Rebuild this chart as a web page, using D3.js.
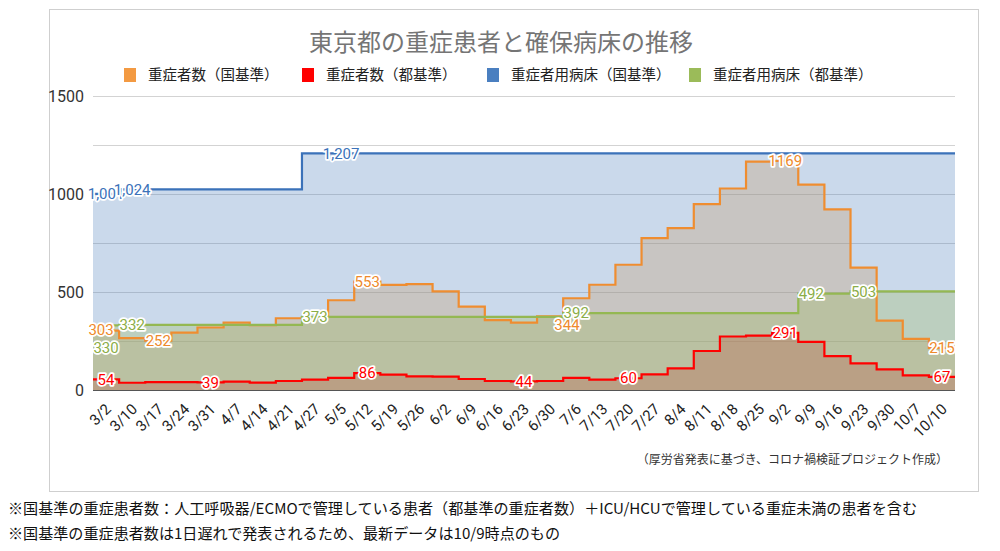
<!DOCTYPE html>
<html>
<head>
<meta charset="utf-8">
<script src="https://cdn.jsdelivr.net/npm/d3@7"></script>
<style>
  body { margin: 0; background: #fff; }
  text { font-family: Roboto, "Noto Sans CJK JP", sans-serif; }
  .jp { font-family: "Noto Sans CJK JP", sans-serif; }
</style>
</head>
<body>
<div id="chart"></div>
<script>
var width = 1000, height = 551
var margin = {top: 96, right: 45, bottom: 161, left: 93}

// week labels on the x axis
var dates = ["3/2", "3/10", "3/17", "3/24", "3/31", "4/7", "4/14", "4/21", "4/27", "5/5", "5/12",
  "5/19", "5/26", "6/2", "6/9", "6/16", "6/23", "6/30", "7/6", "7/13", "7/20", "7/27", "8/4",
  "8/11", "8/18", "8/25", "9/2", "9/9", "9/16", "9/23", "9/30", "10/7", "10/10"]

// 重症者数（国基準）
var kuniSevere = [303, 265, 252, 293, 319, 344, 331, 366, 372, 458, 553, 536, 540, 503, 425, 356,
  344, 376, 468, 537, 639, 775, 826, 948, 1028, 1165, 1169, 1048, 922, 624, 354, 261, 215]
// 重症者数（都基準）
var toSevere = [54, 37, 40, 40, 39, 43, 38, 46, 53, 62, 86, 78, 70, 68, 56, 46, 44, 46, 62, 53, 60,
  80, 110, 199, 273, 277, 291, 246, 173, 136, 105, 75, 67]
// 重症者用病床（国基準）
var kuniBeds = [1001, 1024, 1024, 1024, 1024, 1024, 1024, 1024, 1207, 1207, 1207, 1207, 1207, 1207,
  1207, 1207, 1207, 1207, 1207, 1207, 1207, 1207, 1207, 1207, 1207, 1207, 1207, 1207, 1207, 1207,
  1207, 1207, 1207]
// 重症者用病床（都基準）
var toBeds = [330, 332, 332, 332, 332, 332, 332, 332, 373, 373, 373, 373, 373, 373, 373, 373, 373,
  373, 392, 392, 392, 392, 392, 392, 392, 392, 392, 492, 492, 503, 503, 503, 503]

// which points carry a value label
var kuniSevereLabels = [0, 2, 10, 16, 26, 32]
var toSevereLabels = [0, 4, 10, 16, 20, 26, 32]
var kuniBedsLabels = [0, 1, 9]
var toBedsLabels = [0, 1, 8, 18, 27, 29]

var yTicks = [0, 500, 1000, 1500]
var gridTicks = [0, 250, 500, 750, 1000, 1250, 1500]

var series = [
  {name: "重症者数（国基準）", values: kuniSevere, labels: kuniSevereLabels, fill: "#f7a23a", swatch: "#f39a42", line: "#ef8d30", text: "#ee8a2c", fmt: d3.format("d")},
  {name: "重症者数（都基準）", values: toSevere, labels: toSevereLabels, fill: "#ff0000", swatch: "#ff0000", line: "#ff0000", text: "#ff0000", fmt: d3.format("d")},
  {name: "重症者用病床（国基準）", values: kuniBeds, labels: kuniBedsLabels, fill: "#4f81bd", swatch: "#4a7fc0", line: "#3b72b9", text: "#3b72b9", fmt: d3.format(",")},
  {name: "重症者用病床（都基準）", values: toBeds, labels: toBedsLabels, fill: "#9bbb59", swatch: "#9bbb59", line: "#94b852", text: "#8bad48", fmt: d3.format("d")}
]

var svg = d3.select("#chart")
  .append("svg")
  .attr("width", width)
  .attr("height", height)

// chart frame
svg.append("rect")
  .attr("x", 49.5).attr("y", 9.5)
  .attr("width", 929).attr("height", 482)
  .attr("fill", "#fff")
  .attr("stroke", "#cfcfcf")

var xScale = d3.scaleBand()
  .domain(dates)
  .range([margin.left, width - margin.right])
  .padding(0)

var yScale = d3.scaleLinear()
  .domain([0, 1500])
  .range([height - margin.bottom, margin.top])

// gridlines
svg.append("g")
  .selectAll("line")
  .data(gridTicks)
  .enter()
  .append("line")
  .attr("x1", margin.left)
  .attr("x2", width - margin.right)
  .attr("y1", d => yScale(d) + 0.5)
  .attr("y2", d => yScale(d) + 0.5)
  .attr("stroke", "#d3d3d3")

// y labels
svg.append("g")
  .selectAll("text")
  .data(yTicks)
  .enter()
  .append("text")
  .attr("x", 84)
  .attr("y", d => yScale(d))
  .attr("dy", "0.35em")
  .attr("text-anchor", "end")
  .attr("font-size", "16px")
  .attr("fill", "#333")
  .text(d => d)

function points(vals) {
  var pts = dates.map((d, i) => ({x: xScale(d), v: vals[i]}))
  pts.push({x: xScale.range()[1], v: vals[vals.length - 1]})
  return pts
}

var area = d3.area()
  .curve(d3.curveStepAfter)
  .x(d => d.x)
  .y0(yScale(0))
  .y1(d => yScale(d.v))

var line = d3.line()
  .curve(d3.curveStepAfter)
  .x(d => d.x)
  .y(d => yScale(d.v))

series.forEach(s => {
  svg.append("path")
    .datum(points(s.values))
    .attr("d", area)
    .attr("fill", s.fill)
    .attr("fill-opacity", 0.3)
})

// baseline
svg.append("line")
  .attr("x1", margin.left).attr("x2", width - margin.right)
  .attr("y1", yScale(0) + 0.5).attr("y2", yScale(0) + 0.5)
  .attr("stroke", "#555")

series.forEach(s => {
  svg.append("path")
    .datum(points(s.values))
    .attr("d", line)
    .attr("fill", "none")
    .attr("stroke", s.line)
    .attr("stroke-width", 2.2)
})

// small nudges where the original moved labels to avoid overlap
var nudge = {"0-16": [43, 2], "3-0": [0, 22], "0-0": [-5, -1]}

series.forEach((s, si) => {
  svg.append("g")
    .selectAll("text")
    .data(s.labels)
    .enter()
    .append("text")
    .attr("x", i => xScale(dates[i]) + xScale.bandwidth() / 2 + (nudge[si + "-" + i] || [0, 0])[0])
    .attr("y", i => yScale(s.values[i]) + (nudge[si + "-" + i] || [0, 0])[1])
    .attr("dy", "0.35em")
    .attr("text-anchor", "middle")
    .attr("font-size", "15px")
    .attr("fill", s.text)
    .attr("stroke", "#fff")
    .attr("stroke-width", 3.5)
    .attr("stroke-linejoin", "round")
    .attr("paint-order", "stroke")
    .text(i => s.fmt(s.values[i]))
})

// x labels
svg.append("g")
  .selectAll("text")
  .data(dates)
  .enter()
  .append("text")
  .attr("transform", d => `translate(${xScale(d) + xScale.bandwidth() / 2 + 6},${yScale(0) + 20}) rotate(-45)`)
  .attr("text-anchor", "end")
  .attr("font-size", "15px")
  .attr("fill", "#222")
  .text(d => d)

// title
svg.append("text")
  .attr("class", "jp")
  .attr("x", 501)
  .attr("y", 51)
  .attr("text-anchor", "middle")
  .attr("font-size", "24px")
  .attr("fill", "#757575")
  .text("東京都の重症患者と確保病床の推移")

// legend
var legendX = [124, 302, 487, 689]
var legend = svg.append("g")
  .selectAll("g")
  .data(series)
  .enter()
  .append("g")
  .attr("transform", (d, i) => `translate(${legendX[i]},75)`)

legend.append("rect")
  .attr("x", 0).attr("y", -7)
  .attr("width", 12).attr("height", 14)
  .attr("fill", d => d.swatch)

legend.append("text")
  .attr("class", "jp")
  .attr("x", 24)
  .attr("dy", "0.35em")
  .attr("font-size", "14.5px")
  .attr("fill", "#222")
  .text(d => d.name)

// source
svg.append("text")
  .attr("class", "jp")
  .attr("x", 948)
  .attr("y", 464)
  .attr("text-anchor", "end")
  .attr("font-size", "12px")
  .attr("fill", "#333")
  .text("（厚労省発表に基づき、コロナ禍検証プロジェクト作成）")

// notes
svg.append("text")
  .attr("class", "jp")
  .attr("x", 8)
  .attr("y", 514)
  .attr("font-size", "15px")
  .attr("fill", "#111")
  .attr("textLength", 909)
  .attr("lengthAdjust", "spacingAndGlyphs")
  .text("※国基準の重症患者数：人工呼吸器/ECMOで管理している患者（都基準の重症者数）＋ICU/HCUで管理している重症未満の患者を含む")

svg.append("text")
  .attr("class", "jp")
  .attr("x", 8)
  .attr("y", 539)
  .attr("font-size", "15px")
  .attr("fill", "#111")
  .attr("textLength", 552)
  .attr("lengthAdjust", "spacingAndGlyphs")
  .text("※国基準の重症患者数は1日遅れで発表されるため、最新データは10/9時点のもの")
</script>
</body>
</html>
